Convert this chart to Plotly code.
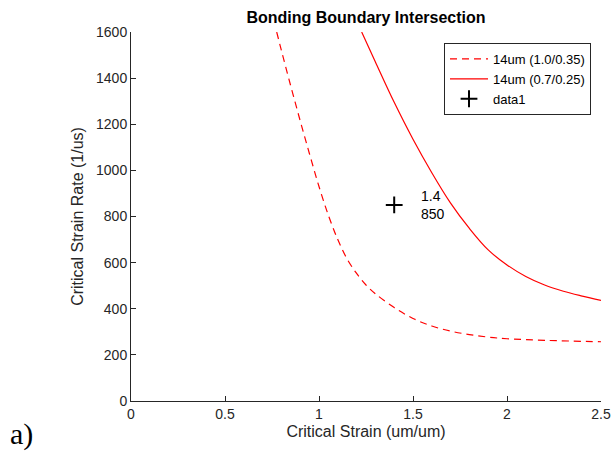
import plotly.graph_objects as go

# Data
dash_x = [0.775, 0.8, 0.85, 0.9, 0.95, 1.0, 1.05, 1.1, 1.15, 1.2, 1.25, 1.3, 1.4, 1.5,
          1.6, 1.7, 1.8, 1.9, 2.0, 2.2, 2.5]
dash_y = [1600, 1520, 1365, 1215, 1070, 930, 805, 700, 615, 553, 503, 465, 405, 358,
          325, 303, 288, 277, 270, 263, 257]

solid_x = [1.227, 1.3, 1.4, 1.5, 1.6, 1.7, 1.8, 1.9, 2.0, 2.1, 2.2, 2.3, 2.4, 2.5]
solid_y = [1600, 1470, 1295, 1135, 990, 858, 748, 655, 590, 540, 503, 476, 455, 436]

pt_x = [1.4]
pt_y = [850]

x_ticks = [0, 0.5, 1, 1.5, 2, 2.5]
x_tick_text = ["0", "0.5", "1", "1.5", "2", "2.5"]
y_ticks = [0, 200, 400, 600, 800, 1000, 1200, 1400, 1600]

axcol = "#262626"
font_fam = "Liberation Sans, Arial, sans-serif"

fig = go.Figure()
fig.add_trace(go.Scatter(x=dash_x, y=dash_y, mode="lines", name="14um (1.0/0.35)",
                         line=dict(color="#ff0000", width=1.2, dash="7px,5px", shape="spline",
                                   smoothing=1.0)))
fig.add_trace(go.Scatter(x=solid_x, y=solid_y, mode="lines", name="14um (0.7/0.25)",
                         line=dict(color="#ff0000", width=1.2, shape="spline", smoothing=1.0)))
fig.add_trace(go.Scatter(x=pt_x, y=pt_y, mode="markers", name="data1",
                         marker=dict(symbol="cross-thin", size=12, color="black",
                                     line=dict(width=2, color="black"))))

fig.add_annotation(x=1.53, y=pt_y[0], xref="x", yref="y", xanchor="left", yanchor="middle",
                   text=f"{pt_x[0]}<br>{pt_y[0]}", showarrow=False, align="left",
                   font=dict(size=14, color="black", family=font_fam))
fig.add_annotation(x=-123/470, y=-52/369, xref="paper", yref="paper", xanchor="left",
                   yanchor="bottom", text="a)", showarrow=False,
                   font=dict(size=30, color="black", family="Liberation Serif, Times New Roman, serif"))

fig.update_layout(
    width=611, height=455,
    margin=dict(l=131, r=10, t=32, b=54, autoexpand=False),
    paper_bgcolor="white", plot_bgcolor="white",
    font=dict(family=font_fam, size=14, color=axcol),
    title=dict(text="<b>Bonding Boundary Intersection</b>", x=(366)/611, xanchor="center",
               y=1 - 17/455, yanchor="middle", font=dict(size=16, color="black")),
    showlegend=True,
    legend=dict(x=(591 - 131) / 470, y=(401 - 43) / 369, xanchor="right", yanchor="top",
                bgcolor="white", bordercolor=axcol, borderwidth=1,
                font=dict(size=13, color="black"), tracegroupgap=0,
                itemwidth=38),
)
fig.update_xaxes(range=[0, 2.5], tickvals=x_ticks, ticktext=x_tick_text, ticks="inside",
                 ticklen=5, tickcolor=axcol, showline=True, linecolor=axcol, linewidth=1,
                 showgrid=False, zeroline=False, mirror=False, automargin=False,
                 title=dict(text="Critical Strain (um/um)", standoff=5, font=dict(size=16)))
fig.update_yaxes(range=[0, 1600], tickvals=y_ticks, ticks="inside", ticklen=5, tickcolor=axcol,
                 showline=True, linecolor=axcol, linewidth=1, showgrid=False, zeroline=False,
                 automargin=False,
                 title=dict(text="Critical Strain Rate (1/us)", standoff=8, font=dict(size=16)))

fig.write_html("out.html")
